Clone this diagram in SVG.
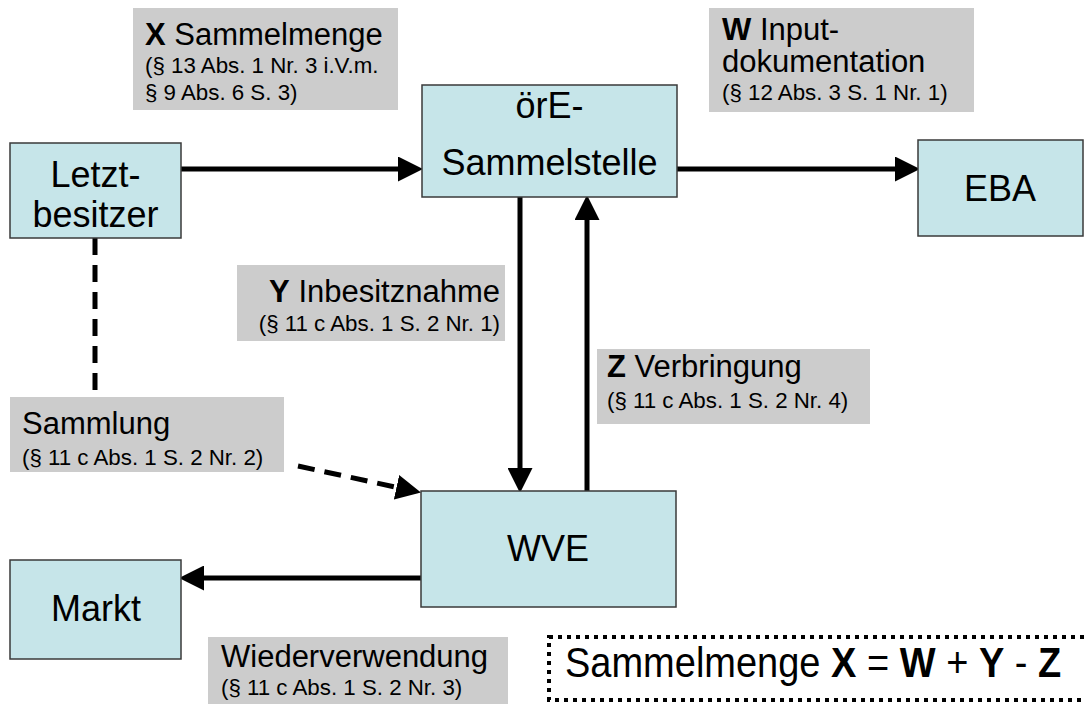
<svg xmlns="http://www.w3.org/2000/svg" width="1085" height="704" viewBox="0 0 1085 704">
<defs>
<marker id="ah" markerWidth="5" markerHeight="5" refX="0" refY="2.2" orient="auto" markerUnits="strokeWidth" viewBox="0 0 4.4 4.4">
<path d="M0,0 L4.4,2.2 L0,4.4 Z" fill="#000"/>
</marker>
</defs>
<style>
.node{fill:#C6E5E9;stroke:#3a3a3a;stroke-width:1.5}
.lbl{fill:#CCCCCC;stroke:none}
.nt{font-family:"Liberation Sans",Arial,sans-serif;font-size:36px;fill:#000;text-anchor:middle}
.t1{font-family:"Liberation Sans",Arial,sans-serif;font-size:31px;fill:#000}
.t2{font-family:"Liberation Sans",Arial,sans-serif;font-size:22.3px;fill:#000}
.b{font-weight:bold}
.c{stroke:#000;stroke-width:5;fill:none}
.d{stroke-dasharray:17 10}
</style>
<rect width="1085" height="704" fill="#fff"/>
<g id="connectors">
<line class="c" x1="181" y1="169" x2="398" y2="169" marker-end="url(#ah)"/>
<line class="c" x1="677" y1="169" x2="895" y2="169" marker-end="url(#ah)"/>
<line class="c" x1="520" y1="197" x2="520" y2="468" marker-end="url(#ah)"/>
<line class="c" x1="587" y1="491" x2="587" y2="220" marker-end="url(#ah)"/>
<line class="c" x1="421" y1="578" x2="204" y2="578" marker-end="url(#ah)"/>
<line class="c d" x1="95" y1="238" x2="95" y2="397"/>
<line class="c d" x1="298" y1="466" x2="396.5" y2="487.3" marker-end="url(#ah)"/>
</g>
<g id="label-X">
<rect class="lbl" x="133" y="8" width="265" height="102"/>
<text class="t1" x="145" y="45"><tspan class="b">X</tspan> Sammelmenge</text>
<text class="t2" x="145" y="73">(§ 13 Abs. 1 Nr. 3 i.V.m.</text>
<text class="t2" x="145" y="100">§ 9 Abs. 6 S. 3)</text>
</g>
<g id="label-W">
<rect class="lbl" x="709" y="8" width="265" height="104"/>
<text class="t1" x="722" y="40"><tspan class="b">W</tspan> Input-</text>
<text class="t1" x="722" y="72">dokumentation</text>
<text class="t2" x="722" y="100">(§ 12 Abs. 3 S. 1 Nr. 1)</text>
</g>
<g id="label-Y">
<rect class="lbl" x="237" y="265" width="268" height="76"/>
<text class="t1" x="500" y="302" text-anchor="end"><tspan class="b">Y</tspan> Inbesitznahme</text>
<text class="t2" x="500" y="331" text-anchor="end">(§ 11 c Abs. 1 S. 2 Nr. 1)</text>
</g>
<g id="label-Z">
<rect class="lbl" x="597" y="349" width="273" height="75"/>
<text class="t1" x="607" y="377"><tspan class="b">Z</tspan> Verbringung</text>
<text class="t2" x="607" y="408">(§ 11 c Abs. 1 S. 2 Nr. 4)</text>
</g>
<g id="label-Sammlung">
<rect class="lbl" x="10" y="397" width="274" height="75"/>
<text class="t1" x="22" y="434">Sammlung</text>
<text class="t2" x="22" y="465">(§ 11 c Abs. 1 S. 2 Nr. 2)</text>
</g>
<g id="label-Wiederverwendung">
<rect class="lbl" x="208" y="637" width="300" height="67"/>
<text class="t1" x="221" y="667">Wiederverwendung</text>
<text class="t2" x="221" y="695">(§ 11 c Abs. 1 S. 2 Nr. 3)</text>
</g>
<g id="node-Letztbesitzer">
<rect class="node" x="10" y="143" width="171" height="95"/>
<text class="nt" x="95.5" y="187">Letzt-</text>
<text class="nt" x="95.5" y="227">besitzer</text>
</g>
<g id="node-oerE">
<rect class="node" x="422" y="85" width="255" height="112"/>
<text class="nt" x="549.5" y="118">örE-</text>
<text class="nt" x="549.5" y="175">Sammelstelle</text>
</g>
<g id="node-EBA">
<rect class="node" x="918" y="140" width="165" height="96"/>
<text class="nt" x="1000" y="201">EBA</text>
</g>
<g id="node-WVE">
<rect class="node" x="421" y="491" width="255" height="116"/>
<text class="nt" x="548" y="561">WVE</text>
</g>
<g id="node-Markt">
<rect class="node" x="10" y="560" width="171" height="99"/>
<text class="nt" x="96" y="621">Markt</text>
</g>
<g id="formula">
<rect x="549" y="637" width="545" height="63" fill="none" stroke="#000" stroke-width="4" stroke-dasharray="4 5"/>
<text class="t1" x="565" y="677" style="font-size:38px" transform="matrix(1 0 0 1.1 0 -67.7)">Sammelmenge <tspan class="b">X</tspan> = <tspan class="b">W</tspan> + <tspan class="b">Y</tspan> - <tspan class="b">Z</tspan></text>
</g>
</svg>
